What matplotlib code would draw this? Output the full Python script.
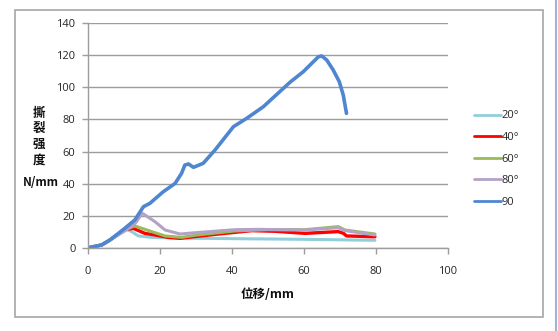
import matplotlib
matplotlib.use("Agg")
import matplotlib.pyplot as plt
from matplotlib.patches import Rectangle
from matplotlib.lines import Line2D

# Tear strength vs displacement for different angles
x_90 = [0, 0.5, 3.8, 6.1, 10.3, 13, 15.4, 17.2, 20.9, 24.2, 26, 26.9, 27.9, 29.3, 32,
        35.3, 40.4, 44.1, 48.7, 54.3, 56.1, 59.8, 62.6, 64, 64.9, 66.3, 68.1, 69.8,
        70.9, 71.8]
y_90 = [0, 0.4, 1.9, 5, 12.4, 17.4, 25.7, 27.8, 35, 40.2, 46.5, 51.6, 52.3, 50.2, 52.7,
        61, 75.5, 80.7, 87.9, 99.4, 103.1, 109.7, 115.9, 119, 119.5, 117, 110.8, 103.5,
        95.2, 83.8]

x_20 = [0, 3.8, 6.1, 10.3, 11.2, 12.1, 14, 17.7, 25, 40.8, 60, 70, 79.7]
y_20 = [0, 1.9, 5, 11.5, 11.2, 10.2, 7.5, 6.6, 6.2, 5.8, 5.4, 5.1, 4.8]

x_40 = [0, 3.8, 6.1, 10.3, 12.6, 15.8, 18.6, 22.3, 25.6, 30, 38, 45.5, 52, 60.3,
        69.5, 71, 71.8, 79.7]
y_40 = [0, 1.9, 5, 11.5, 12.2, 9.1, 8.1, 6.6, 6, 7.2, 9.1, 10.8, 10.4, 9.1,
        10.2, 9.1, 7.5, 7]

x_60 = [0, 3.8, 6.1, 10.3, 13, 17.7, 21.4, 26, 30, 40.8, 50, 60.3, 69.5, 71.4, 79.7]
y_60 = [0, 1.9, 5, 11.5, 13.7, 10.2, 7.5, 6.6, 8, 10.6, 11.4, 11.4, 13.3, 11.2, 8.7]

x_80 = [0, 3.8, 6.1, 10.7, 13, 15.1, 18.6, 21.4, 25.6, 29.7, 40.8, 47.3, 60.3,
        69.5, 71.4, 79.7]
y_80 = [0, 1.9, 5, 11.2, 15, 21.6, 16.4, 11.2, 8.7, 9.5, 11.4, 11.6, 11.2,
        12.6, 10.8, 8.1]

labels = ["20°", "40°", "60°", "80°", "90"]
series = [(x_20, y_20), (x_40, y_40), (x_60, y_60), (x_80, y_80), (x_90, y_90)]
colors = ["#92CDDC", "#FF0000", "#9BBB59", "#B3A2C7", "#4F86D0"]
widths = [2.2, 2.4, 2.2, 2.2, 2.6]

xticks = [0, 20, 40, 60, 80, 100]
yticks = [0, 20, 40, 60, 80, 100, 120, 140]

W, H = 558, 331
fig = plt.figure(figsize=(W / 100, H / 100), dpi=100)
fig.patch.set_facecolor("white")

# chart frame and window edge
fig.add_artist(Rectangle((15 / W, 1 - 317 / H), (543 - 15) / W, (317 - 10) / H,
                         transform=fig.transFigure, fill=False,
                         edgecolor="#A6A6A6", linewidth=1.2))
fig.add_artist(Line2D([555.5 / W, 555.5 / W], [0, 1], transform=fig.transFigure,
                      color="#9FB5D3", linewidth=1.5))

ax = fig.add_axes([88 / W, 1 - 248 / H, (448 - 88) / W, (248 - 23) / H])
ax.set_xlim(0, 100)
ax.set_ylim(0, 140)

for (xs, ys), c, lw, lab in zip(series, colors, widths, labels):
    ax.plot(xs, ys, color=c, linewidth=lw, label=lab, solid_capstyle="round",
            solid_joinstyle="round")

ax.set_xticks(xticks)
ax.set_yticks(yticks)
ax.grid(axis="y", color="#9C9C9C", linewidth=1.0)
ax.set_axisbelow(True)
for s in ["top", "right"]:
    ax.spines[s].set_visible(False)
for s in ["left", "bottom"]:
    ax.spines[s].set_color("#9C9C9C")
    ax.spines[s].set_linewidth(1.0)
ax.tick_params(axis="both", direction="out", length=4, color="#9C9C9C",
               labelsize=8, labelcolor="#262626", width=1.0)
ax.tick_params(axis="x", pad=9)
ax.tick_params(axis="y", pad=5)
for lbl in ax.get_xticklabels() + ax.get_yticklabels():
    lbl.set_family("Open Sans")

cjk = ["Noto Sans CJK SC", "DejaVu Sans"]
fig.text(268 / W, 1 - 294 / H, "位移/mm", ha="center", va="center",
         family=cjk, fontsize=9, fontweight="bold", color="#111111")
for i, ch in enumerate("撕裂强度"):
    fig.text(39 / W, 1 - (113 + i * 15.7) / H, ch, ha="center", va="center",
             family=cjk, fontsize=9, fontweight="bold", color="#111111")
fig.text(41 / W, 1 - 182 / H, "N/mm", ha="center", va="center",
         family=cjk, fontsize=8.5, fontweight="bold", color="#111111")

leg = ax.legend(loc="upper left", bbox_to_anchor=(470 / W, 1 - 106 / H),
                bbox_transform=fig.transFigure, frameon=False, handlelength=2.4,
                handletextpad=0.05, labelspacing=0.95, borderaxespad=0,
                prop={"family": "Open Sans", "size": 8})
for t in leg.get_texts():
    t.set_color("#262626")
for h in leg.get_lines():
    h.set_linewidth(2.0)

fig.savefig("out.png", dpi=100, facecolor="white")
